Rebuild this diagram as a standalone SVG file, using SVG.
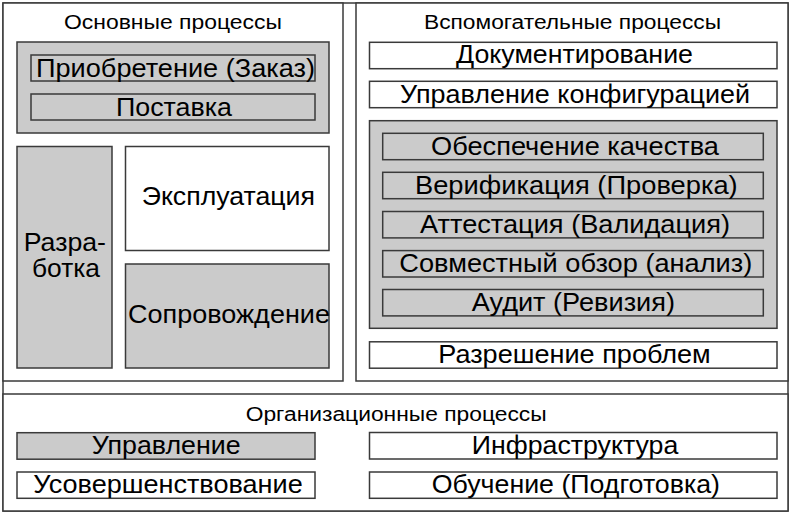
<svg xmlns="http://www.w3.org/2000/svg" width="794" height="514" viewBox="0 0 794 514">
<style>
.frame{fill:#fff;stroke:#3a3a3a;stroke-width:1.5}
.w{fill:#fff;stroke:#3a3a3a;stroke-width:1.5}
.g{fill:#cbcbcb;stroke:#3a3a3a;stroke-width:1.5}
.t{font-family:"Liberation Sans",Arial,sans-serif;fill:#000}
.h{font-size:20px}
.b{font-size:25.5px}
</style>
<rect width="794" height="514" fill="#fff"/>
<g id="frame">
<rect class="frame" x="3" y="3" width="785" height="508"/>
</g>
<g id="main">
<rect class="frame" x="3" y="3" width="340" height="378"/>
<text class="t h" x="64" y="28.7" textLength="218" lengthAdjust="spacingAndGlyphs">Основные процессы</text>
</g>
<g id="acquisition-group">
<rect class="g" x="17" y="42" width="312" height="91"/>
</g>
<g id="acquisition">
<rect class="g" x="31" y="55" width="284" height="26"/>
<text class="t b" x="36" y="76.8" textLength="279" lengthAdjust="spacingAndGlyphs">Приобретение (Заказ)</text>
</g>
<g id="supply">
<rect class="g" x="31" y="94" width="284" height="26"/>
<text class="t b" x="116" y="115.5" textLength="116" lengthAdjust="spacingAndGlyphs">Поставка</text>
</g>
<g id="development">
<rect class="g" x="17" y="146.5" width="95" height="221.5"/>
<text class="t b" x="23.7" y="251" textLength="82.3" lengthAdjust="spacingAndGlyphs">Разра-</text>
<text class="t b" x="32" y="276.7" textLength="68" lengthAdjust="spacingAndGlyphs">ботка</text>
</g>
<g id="operation">
<rect class="w" x="125.5" y="146.5" width="203.5" height="104"/>
<text class="t b" x="141.7" y="205" textLength="173.3" lengthAdjust="spacingAndGlyphs">Эксплуатация</text>
</g>
<g id="maintenance">
<rect class="g" x="125.5" y="264" width="203.5" height="104"/>
<text class="t b" x="128" y="322.7" textLength="202" lengthAdjust="spacingAndGlyphs">Сопровождение</text>
</g>
<g id="supporting">
<rect class="frame" x="356" y="3" width="432" height="378"/>
<text class="t h" x="424" y="28.7" textLength="297" lengthAdjust="spacingAndGlyphs">Вспомогательные процессы</text>
</g>
<g id="documentation">
<rect class="w" x="369.5" y="42.3" width="407.5" height="26.4"/>
<text class="t b" x="456" y="63.4" textLength="237" lengthAdjust="spacingAndGlyphs">Документирование</text>
</g>
<g id="configuration">
<rect class="w" x="369.5" y="81.3" width="407.5" height="26.4"/>
<text class="t b" x="400" y="103.2" textLength="350" lengthAdjust="spacingAndGlyphs">Управление конфигурацией</text>
</g>
<g id="quality-group">
<rect class="g" x="369.5" y="120.7" width="407.5" height="207.6"/>
</g>
<g id="quality">
<rect class="g" x="382.7" y="133.3" width="380.6" height="26.4"/>
<text class="t b" x="431" y="155" textLength="288" lengthAdjust="spacingAndGlyphs">Обеспечение качества</text>
</g>
<g id="verification">
<rect class="g" x="382.7" y="172.3" width="380.6" height="26.4"/>
<text class="t b" x="415" y="194" textLength="322.7" lengthAdjust="spacingAndGlyphs">Верификация (Проверка)</text>
</g>
<g id="validation">
<rect class="g" x="382.7" y="211.5" width="380.6" height="26.4"/>
<text class="t b" x="420" y="233.2" textLength="310" lengthAdjust="spacingAndGlyphs">Аттестация (Валидация)</text>
</g>
<g id="joint-review">
<rect class="g" x="382.7" y="250.6" width="380.6" height="26.4"/>
<text class="t b" x="399.3" y="272.2" textLength="353" lengthAdjust="spacingAndGlyphs">Совместный обзор (анализ)</text>
</g>
<g id="audit">
<rect class="g" x="382.7" y="289.5" width="380.6" height="26.4"/>
<text class="t b" x="471.7" y="311" textLength="203.3" lengthAdjust="spacingAndGlyphs">Аудит (Ревизия)</text>
</g>
<g id="problem-resolution">
<rect class="w" x="369.5" y="341.8" width="407.5" height="26.4"/>
<text class="t b" x="438.3" y="363" textLength="272.4" lengthAdjust="spacingAndGlyphs">Разрешение проблем</text>
</g>
<g id="organizational">
<rect class="frame" x="3" y="394" width="785" height="117"/>
<text class="t h" x="245.7" y="420.7" textLength="301" lengthAdjust="spacingAndGlyphs">Организационные процессы</text>
</g>
<g id="management">
<rect class="g" x="17" y="432.7" width="298" height="26.5"/>
<text class="t b" x="91.7" y="454" textLength="149" lengthAdjust="spacingAndGlyphs">Управление</text>
</g>
<g id="improvement">
<rect class="w" x="17" y="472" width="298" height="26.3"/>
<text class="t b" x="33.3" y="492.5" textLength="269.4" lengthAdjust="spacingAndGlyphs">Усовершенствование</text>
</g>
<g id="infrastructure">
<rect class="w" x="369.5" y="432.5" width="407.5" height="26.5"/>
<text class="t b" x="471.7" y="453.8" textLength="206.6" lengthAdjust="spacingAndGlyphs">Инфраструктура</text>
</g>
<g id="training">
<rect class="w" x="369.5" y="472" width="407.5" height="26.3"/>
<text class="t b" x="431.7" y="492.5" textLength="288.3" lengthAdjust="spacingAndGlyphs">Обучение (Подготовка)</text>
</g>
<g id="connectors"></g>
</svg>
